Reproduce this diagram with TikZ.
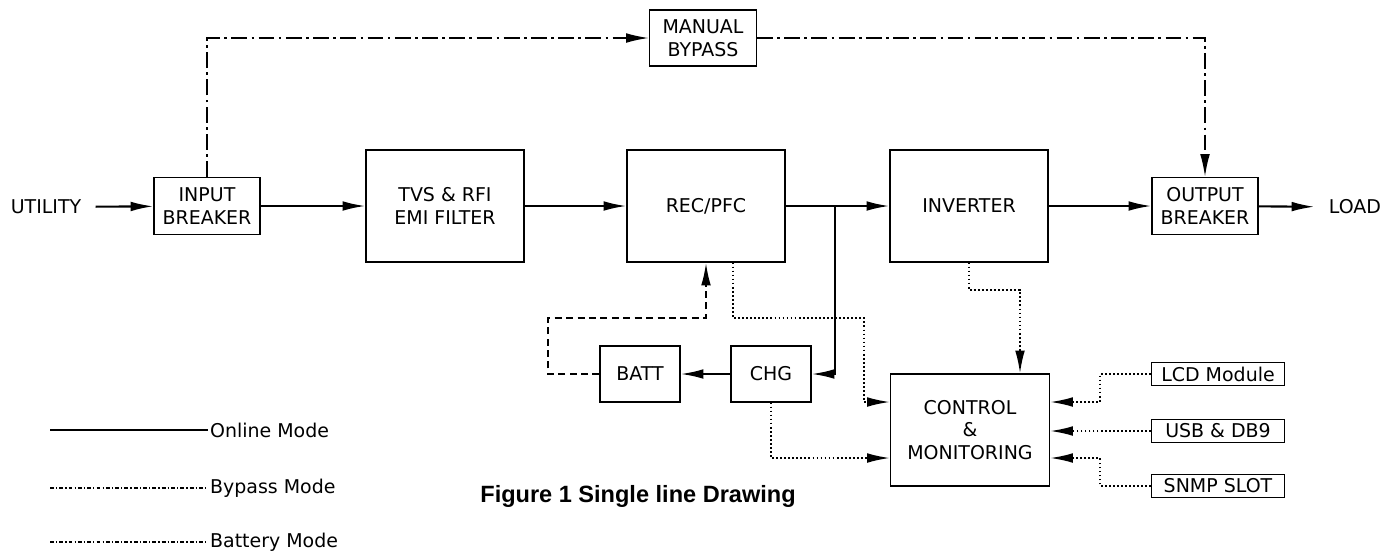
\documentclass[tikz,border=0pt]{standalone}
\usepackage{fontspec}
\usepackage{tikz}
\usetikzlibrary{arrows.meta}
\setmainfont{DejaVu Sans}
\newfontfamily\titlefont{Liberation Sans}

\begin{document}
\begin{tikzpicture}[x=0.02cm, y=-0.02cm, font=\fontsize{10.8}{12.8}\selectfont,
  blk/.style={rectangle, draw, line width=0.6pt, align=center, minimum width=3.16cm, minimum height=2.24cm},
  brk/.style={blk, minimum width=2.12cm, minimum height=1.14cm},
  sblk/.style={blk, minimum width=1.6cm, minimum height=1.12cm},
  port/.style={blk, minimum width=2.66cm, minimum height=0.46cm, inner sep=1pt},
  txt/.style={inner sep=8pt},
  tip/.style={-{Latex[length=13pt,width=5.5pt]}},
  online/.style={line width=1.2pt},
  bypass/.style={line width=1pt, dash pattern=on 9pt off 2.5pt on 1.5pt off 2.5pt},
  battery/.style={line width=1.2pt, dash pattern=on 4pt off 2.5pt},
  ctrl/.style={line width=1.1pt, dash pattern=on 1pt off 1.3pt},
  lgbypass/.style={line width=0.7pt, dash pattern=on 2.2pt off 1.2pt on 0.7pt off 1.2pt}]
\useasboundingbox (0,0) rectangle (1394,552);

% main path
\node[txt] (UT) at (46,207) {UTILITY};
\node[brk] (IB) at (207,206) {INPUT\\BREAKER};
\node[blk] (TVS) at (445,206) {TVS \& RFI\\EMI FILTER};
\node[blk] (REC) at (706,206) {REC/PFC};
\node[blk] (INV) at (969,206) {INVERTER};
\node[brk] (OB) at (1205,206) {OUTPUT\\BREAKER};
\node[txt] (LD) at (1355,207) {LOAD};
\node[brk, minimum width=2.14cm, minimum height=1.12cm] (MB) at (703,38) {MANUAL\\BYPASS};

% battery and control
\node[sblk] (BATT) at (640,374) {BATT};
\node[sblk] (CHG) at (771,374) {CHG};
\node[blk, minimum width=3.18cm] (CM) at (970,430) {CONTROL\\\&\\MONITORING};
\node[port] (LCD) at (1218,374) {LCD Module};
\node[port] (USB) at (1218,431) {USB \& DB9};
\node[port] (SNMP) at (1218,486) {SNMP SLOT};

\coordinate (j) at (835,206);
\coordinate (bt) at (548,318);
\coordinate (r1) at (733,318);
\coordinate (r2) at (864,402);
\coordinate (i1) at (1020,290);
\coordinate (c1) at (771,458);
\coordinate (l1) at (1100,402);
\coordinate (s1) at (1100,458);

\draw[online,tip] (UT) -- (IB);
\draw[online,tip] (IB) -- (TVS);
\draw[online,tip] (TVS) -- (REC);
\draw[online,tip] (REC) -- (INV);
\draw[online,tip] (INV) -- (OB);
\draw[online,tip] (OB) -- (LD);
\draw[online,tip] (j) |- (CHG);
\draw[online,tip] (CHG) -- (BATT);

\draw[bypass,tip] (IB.north) |- (MB);
\draw[bypass,tip] (MB) -| (OB.north);

\draw[battery,tip] (BATT.west) -| (bt) -| (REC.south);

\draw[ctrl,tip] (REC.south -| r1) -- (r1) -| (r2) -- (r2 -| CM.west);
\draw[ctrl,tip] (INV.south) |- (i1) -- (i1 |- CM.north);
\draw[ctrl,tip] (CHG.south) -- (c1) -- (c1 -| CM.west);
\draw[ctrl,tip] (LCD.west) -| (l1) -- (l1 -| CM.east);
\draw[ctrl,tip] (USB.west) -- (USB.west -| CM.east);
\draw[ctrl,tip] (SNMP.west) -| (s1) -- (s1 -| CM.east);

% legend
\node[anchor=west, inner sep=1pt] (lg1) at (208,430) {Online Mode};
\node[anchor=west, inner sep=1pt] (lg2) at (208,488) {Bypass Mode};
\node[anchor=west, inner sep=1pt] (lg3) at (208,542) {Battery Mode};
\coordinate (lg1s) at (50,430);
\coordinate (lg2s) at (50,488);
\coordinate (lg3s) at (50,542);
\draw[online] (lg1s) -- (lg1.west);
\draw[lgbypass] (lg2s) -- (lg2.west);
\draw[lgbypass] (lg3s) -- (lg3.west);

\node[font=\titlefont\bfseries\fontsize{13.4}{15}\selectfont] (title) at (638,496) {Figure 1 Single line Drawing};
\end{tikzpicture}
\end{document}
